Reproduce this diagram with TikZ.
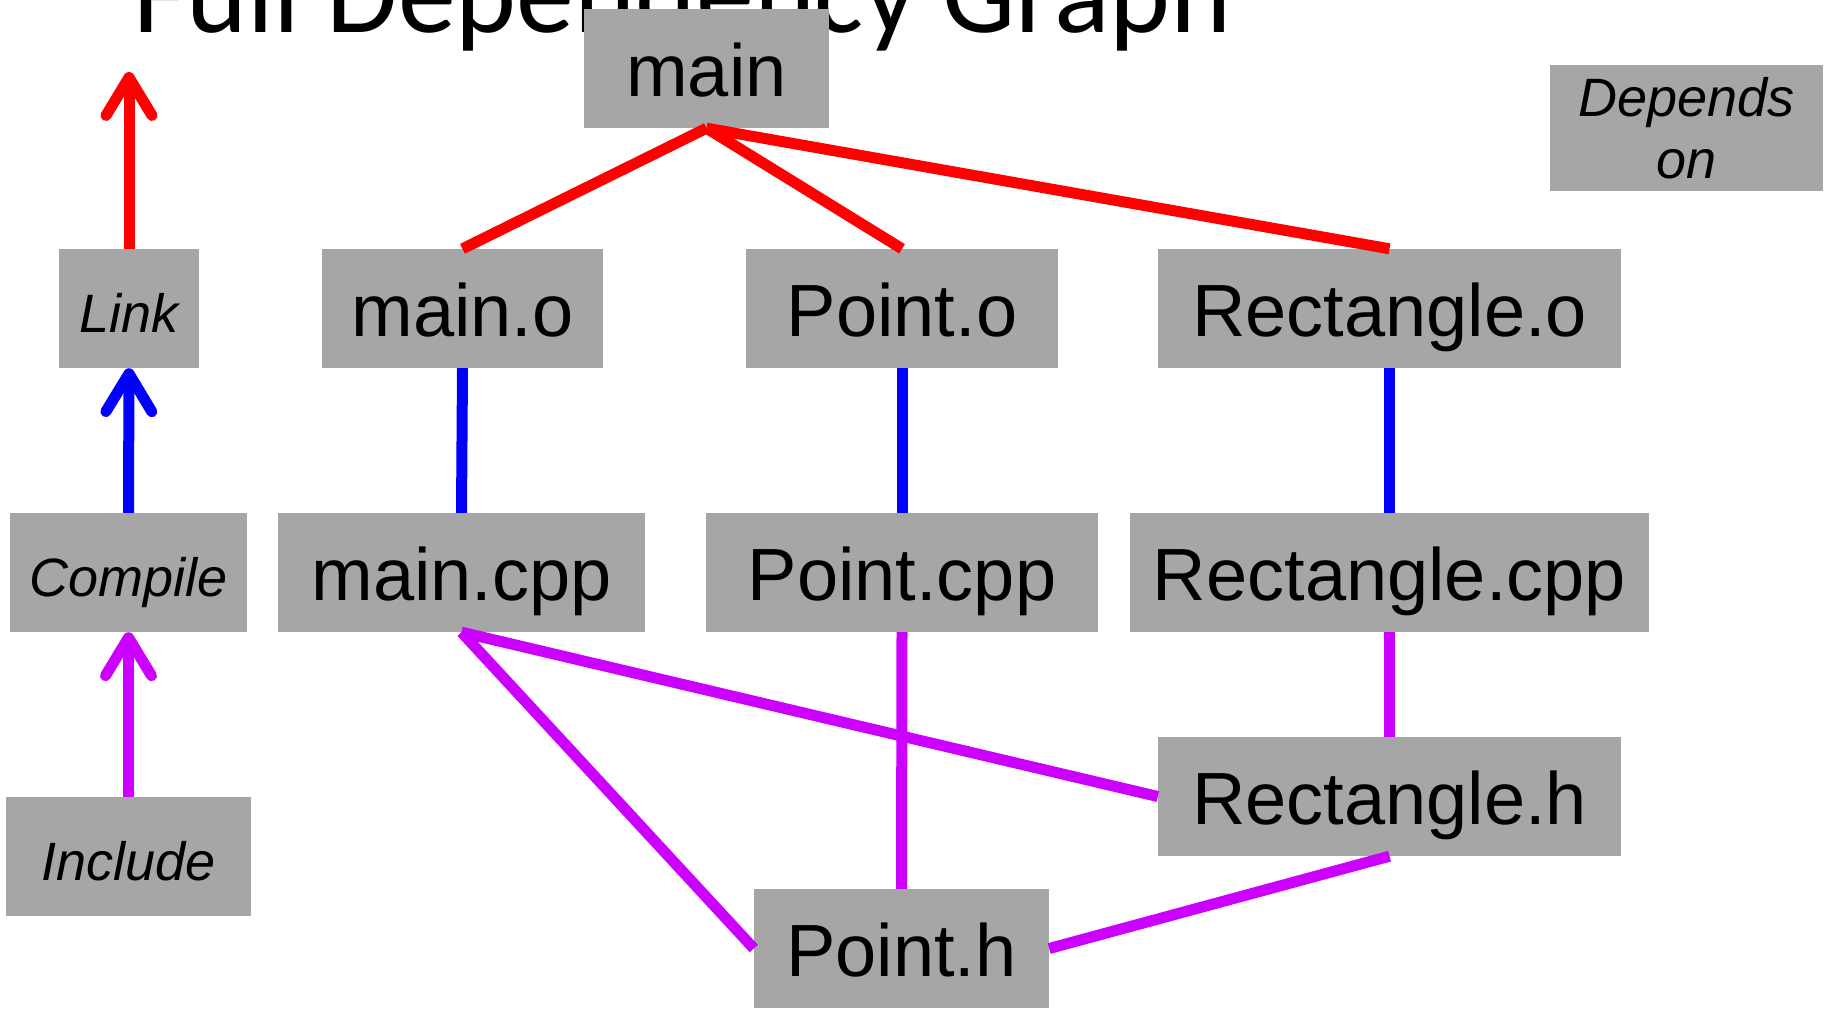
\documentclass[tikz,border=0pt]{standalone}
\usepackage{fontspec}
\setmainfont{Liberation Sans}
\newfontfamily\titlefont{Carlito}
\usetikzlibrary{arrows.meta}
\definecolor{boxgray}{RGB}{166,166,166}
\definecolor{linkred}{RGB}{255,0,0}
\definecolor{compblue}{RGB}{0,0,255}
\definecolor{inclpurple}{RGB}{204,0,255}
\begin{document}
\begin{tikzpicture}[x=1pt,y=-1pt,
  filebox/.style={fill=boxgray, inner sep=0pt, minimum height=119pt,
    text height=55pt, text depth=0pt, font=\fontsize{74}{80}\selectfont},
  legbox/.style={fill=boxgray, inner sep=0pt, minimum height=119pt,
    text height=47pt, text depth=0pt, font=\fontsize{54}{62}\selectfont\itshape},
  dep/.style={line width=11pt},
  linkdep/.style={dep, draw=linkred},
  compdep/.style={dep, draw=compblue},
  incldep/.style={dep, draw=inclpurple},
  legarrow/.style={line width=11pt, -{Straight Barb[length=38pt,width=46pt,round]}}
]
\useasboundingbox (0,0) rectangle (1825,1009);

% title (cut off at the top)
\node[anchor=base west, inner sep=0pt, font=\titlefont\fontsize{116}{120}\selectfont]
  (title) at (133,32) {Full Dependency Graph};

% file nodes
\node[filebox, minimum width=245pt] (main) at (706.5,68.5) {main};
\node[filebox, minimum width=281pt] (maino) at (462.5,308.5) {main.o};
\node[filebox, minimum width=312pt] (pointo) at (902,308.5) {Point.o};
\node[filebox, minimum width=463pt] (recto) at (1389.5,308.5) {Rectangle.o};
\node[filebox, minimum width=367pt] (maincpp) at (461.5,572.5) {main.cpp};
\node[filebox, minimum width=392pt] (pointcpp) at (902,572.5) {Point.cpp};
\node[filebox, minimum width=519pt] (rectcpp) at (1389.5,572.5) {Rectangle.cpp};
\node[filebox, minimum width=463pt] (recth) at (1389.5,796.5) {Rectangle.h};
\node[filebox, minimum width=295pt] (pointh) at (901.5,948.5) {Point.h};

% legend nodes
\node[legbox, minimum width=140pt] (link) at (129,308.5) {Link};
\node[legbox, minimum width=237pt] (compile) at (128.5,572.5) {Compile};
\node[legbox, minimum width=245pt] (include) at (128.5,856.5) {Include};
\node[fill=boxgray, inner sep=0pt, minimum width=273pt, minimum height=126pt,
  align=center, font=\fontsize{54}{62}\selectfont\itshape]
  (depends) at (1686.5,128) {Depends\\on};
\coordinate (linktip) at (129,72);

% dependencies
\draw[linkdep] (main.south) -- (maino.north);
\draw[linkdep] (main.south) -- (pointo.north);
\draw[linkdep] (main.south) -- (recto.north);
\draw[compdep] (maino.south) -- (maincpp.north);
\draw[compdep] (pointo.south) -- (pointcpp.north);
\draw[compdep] (recto.south) -- (rectcpp.north);
\draw[incldep] (maincpp.south) -- (recth.west);
\draw[incldep] (maincpp.south) -- (pointh.west);
\draw[incldep] (pointcpp.south) -- (pointh.north);
\draw[incldep] (rectcpp.south) -- (recth.north);
\draw[incldep] (recth.south) -- (pointh.east);

% legend arrows
\draw[legarrow, draw=linkred] (link.north) -- (linktip);
\draw[legarrow, draw=compblue] (compile.north) -- (link.south);
\draw[legarrow, draw=inclpurple] (include.north) -- (compile.south);
\end{tikzpicture}
\end{document}
